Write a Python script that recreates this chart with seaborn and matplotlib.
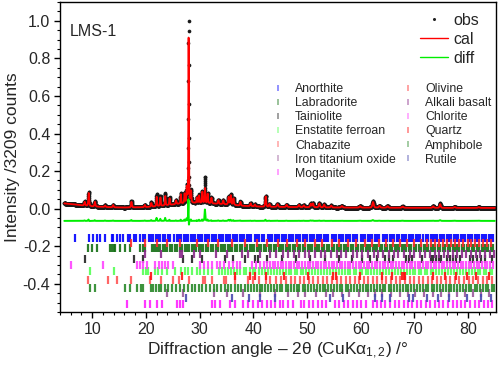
import numpy as np
import pandas as pd
import seaborn as sns
import matplotlib.pyplot as plt
from matplotlib.lines import Line2D
from matplotlib.ticker import MultipleLocator

# Reflexe des Profils: Lage /°, Höhe cal, Höhe obs, Halbwertsbreite
pk_pos = [8.6, 9.35, 10.5, 12.4, 13.9, 17.3, 19.8, 21.0, 22.0, 22.7, 23.6, 24.4, 25.6,
          26.5, 27.2, 27.6, 27.95, 28.4, 29.5, 29.9, 30.5, 31.0, 31.5, 32.2, 33.5, 34.4,
          35.4, 35.8, 36.3, 37.6, 39.5, 40.3, 42.3, 43.0, 44.5, 46.2, 48.5, 49.4, 50.7,
          51.1, 52.3, 53.2, 54.5, 56.5, 59.9, 62.3, 63.5, 65.0, 67.8, 73.5, 74.8, 77.5, 82.0]
pk_cal = [0.02, 0.07, 0.025, 0.008, 0.012, 0.03, 0.012, 0.02, 0.05, 0.045, 0.05, 0.035, 0.02,
          0.05, 0.05, 0.08, 0.9, 0.06, 0.03, 0.04, 0.06, 0.08, 0.05, 0.03, 0.02, 0.02,
          0.04, 0.05, 0.035, 0.02, 0.015, 0.01, 0.055, 0.015, 0.015, 0.012, 0.012, 0.01, 0.018,
          0.02, 0.02, 0.015, 0.01, 0.008, 0.008, 0.03, 0.01, 0.008, 0.006, 0.008, 0.02, 0.005, 0.004]
pk_obs = [0.022, 0.075, 0.028, 0.01, 0.014, 0.034, 0.014, 0.024, 0.065, 0.055, 0.065, 0.04, 0.022,
          0.055, 0.055, 0.09, 0.97, 0.065, 0.032, 0.045, 0.065, 0.14, 0.055, 0.032, 0.022, 0.022,
          0.045, 0.055, 0.038, 0.022, 0.016, 0.011, 0.06, 0.016, 0.016, 0.013, 0.013, 0.011, 0.02,
          0.022, 0.022, 0.016, 0.011, 0.009, 0.009, 0.034, 0.011, 0.009, 0.007, 0.009, 0.024, 0.006, 0.005]
pk_fwhm = [0.2, 0.18, 0.2, 0.2, 0.2, 0.18, 0.2, 0.18, 0.15, 0.15, 0.15, 0.15, 0.18,
           0.15, 0.15, 0.15, 0.12, 0.15, 0.15, 0.15, 0.15, 0.15, 0.15, 0.18, 0.2, 0.2,
           0.2, 0.2, 0.2, 0.2, 0.2, 0.2, 0.2, 0.2, 0.25, 0.25, 0.25, 0.25, 0.25,
           0.25, 0.25, 0.25, 0.25, 0.3, 0.3, 0.3, 0.3, 0.3, 0.3, 0.3, 0.25, 0.3, 0.3]
bg_x = [4, 6, 8, 10, 13, 16, 20, 23, 26, 29, 32, 35, 38, 42, 48, 55, 65, 75, 85]
bg_y = [0.03, 0.025, 0.018, 0.012, 0.008, 0.006, 0.008, 0.015, 0.025, 0.03, 0.028, 0.022,
        0.015, 0.01, 0.008, 0.006, 0.005, 0.004, 0.004]
obs_shift = -0.006
diff_offset = -0.065

# Reflexlagen der Phasen
phases = ['Anorthite', 'Labradorite', 'Tainiolite', 'Enstatite ferroan', 'Chabazite',
          'Iron titanium oxide', 'Moganite', 'Olivine', 'Alkali basalt', 'Chlorite',
          'Quartz', 'Amphibole', 'Rutile']
phase_colors = ['#0000ff', '#157015', '#222222', '#55ff55', '#ff5555', '#9a5a9a', '#ff22ff',
                '#ff2a2a', '#8a2a8a', '#ff44ff', '#ff1010', '#2a882a', '#4a4ab0']
phase_y = [-0.155, -0.21, -0.27, -0.33, -0.38, -0.45, -0.505, -0.183, -0.24, -0.30,
           -0.36, -0.42, -0.475]

anorthite = [6.8, 9.4, 10.1, 10.9, 11.5, 12.3, 13.6, 13.9, 14.6, 15.2, 15.8, 16.6, 17.1, 17.8,
             18.2, 18.9, 19.4, 19.9, 20.5, 20.9, 21.4, 21.8, 22.3, 22.7, 23.2, 23.6, 24.1, 24.5,
             25.3, 25.7, 26.1, 26.6, 27.0, 27.5, 27.9, 28.4, 28.8, 29.2, 29.7, 30.1, 30.5, 31.0,
             31.4, 31.8, 32.3, 32.7, 33.1, 33.6, 34.0, 34.4, 34.9, 35.3, 35.7, 36.2, 36.6, 37.0,
             37.5, 37.9, 38.3, 38.8, 39.2, 39.6, 40.3, 40.7, 41.1, 41.6, 42.0, 42.7, 43.1, 43.5,
             44.0, 44.4, 44.8, 45.3, 45.7, 46.1, 46.6, 47.0, 47.4, 47.9, 48.3, 48.7, 49.2, 49.6,
             50.0, 50.5, 50.9, 51.3, 51.8, 52.2, 52.6, 53.1, 53.5, 53.9, 54.6, 55.0, 55.4, 55.9,
             56.3, 56.7, 57.2, 57.6, 58.0, 58.5, 58.9, 59.3, 60.0, 60.4, 60.8, 61.3, 61.7, 62.1,
             62.6, 63.0, 63.4, 64.1, 64.5, 64.9, 65.4, 65.8, 66.2, 66.7, 67.1, 67.7, 68.1, 68.5,
             69.0, 69.4, 69.8, 70.3, 70.7, 71.1, 71.6, 72.2, 72.6, 73.0, 73.5, 73.9, 74.3, 74.8,
             75.2, 75.6, 76.1, 76.5, 76.9, 77.4, 77.8, 78.2, 78.7, 79.1, 79.5, 80.0, 80.4, 80.8,
             81.3, 81.7, 82.1, 82.6, 83.0, 83.4, 83.9, 84.3, 84.7]
labradorite = [9.3, 10.05, 10.9, 13.4, 13.7, 14.0, 14.3, 15.2, 16.1, 17.1, 18.9, 19.4, 19.9,
               21.1, 21.5, 21.9, 22.3, 22.7, 23.1, 23.6, 24.0, 24.5, 24.9, 25.4, 25.8, 26.3,
               26.7, 27.2, 27.6, 28.0, 28.5, 28.9, 29.4, 29.8, 30.3, 30.7, 31.2, 31.6, 32.1,
               32.5, 33.0, 33.4, 33.9, 34.3, 34.8, 35.2, 35.7, 36.1, 36.6, 37.0, 37.5, 37.9,
               38.4, 38.8, 39.3, 39.7, 40.2, 40.6, 41.1, 41.5, 42.0, 42.4, 42.9, 43.3, 43.8,
               44.2, 44.7, 45.1, 45.6, 46.0, 46.5, 46.9, 47.4, 47.8, 48.3, 48.7, 49.2, 49.6,
               50.1, 50.5, 51.0, 51.4, 51.9, 52.3, 52.8, 53.2, 53.7, 54.1, 54.6, 55.0, 55.5,
               55.9, 56.4, 56.8, 57.3, 57.7, 58.2, 58.6, 59.1, 59.5, 60.0, 60.4, 60.9, 61.3,
               61.8, 62.2, 62.7, 63.1, 63.6, 64.0, 64.5, 64.9, 65.4, 65.8, 66.3, 66.7, 67.2,
               67.6, 68.1, 68.5, 69.0, 69.4, 69.9, 70.3, 70.8, 71.2, 71.7, 72.1, 72.6, 73.0,
               73.5, 73.9, 74.4, 74.8, 75.3, 75.7, 76.2, 76.6, 77.1, 77.5, 78.0, 78.4, 78.9,
               79.3, 79.8, 80.2, 80.7, 81.1, 81.6, 82.0, 82.5, 82.9, 83.4, 83.8, 84.3, 84.7]
tainiolite = [8.7, 17.7, 19.5, 26.9, 28.6, 30.4, 34.8, 36.3, 38.5, 40.4, 40.9, 42.5, 45.3, 48.0,
              50.6, 53.3, 55.9, 58.4, 60.2, 61.8, 63.0, 64.6, 65.2, 66.0, 68.5, 69.0, 69.6,
              71.5, 73.0, 73.5, 74.0, 74.6, 75.0, 76.0, 76.6, 77.2, 77.8, 78.5, 80.4, 81.0,
              81.6, 82.4, 83.2, 84.5]
enstatite = [9.6, 14.0, 19.5, 20.0, 20.4, 21.7, 22.3, 23.0, 24.0, 25.5, 26.5, 27.3, 27.8, 28.6,
             29.5, 30.0, 30.9, 31.5, 32.3, 33.6, 34.2, 34.8, 35.3, 35.9, 36.4, 37.0, 37.6, 38.2,
             38.7, 39.3, 39.9, 40.4, 41.0, 41.6, 42.1, 42.7, 43.3, 43.8, 44.4, 44.9, 45.5, 46.0,
             46.6, 47.1, 47.7, 48.2, 48.8, 49.3, 49.9, 50.4, 51.0, 51.5, 52.1, 52.6, 53.2, 53.7,
             54.3, 54.8, 55.4, 55.9, 56.5, 57.0, 57.6, 58.1, 58.7, 59.2, 59.8, 60.3, 60.9, 61.4,
             62.0, 62.5, 63.1, 63.6, 64.2, 64.7, 65.3, 65.8, 66.4, 66.9, 67.5, 68.0, 68.6, 69.1,
             69.7, 70.2, 70.8, 71.3, 71.9, 72.4, 73.0, 73.5, 74.1, 74.6, 75.2, 75.7, 76.3, 76.8,
             77.4, 77.9, 78.5, 79.0, 79.6, 80.1, 80.7, 81.2, 81.8, 82.3, 82.9, 83.4, 84.0, 84.5]
chabazite = [9.3, 13.0, 14.7, 17.2, 20.7, 22.9, 25.0, 26.1, 28.0, 30.6, 31.0, 32.3, 34.5, 35.0,
             36.5, 39.0, 40.0, 41.0, 42.3, 43.2, 44.3, 45.1, 46.0, 47.0, 47.8, 48.7, 49.5, 50.4,
             51.2, 52.1, 52.9, 53.8, 54.6, 55.5, 56.3, 57.2, 58.0, 58.9, 59.7, 60.6, 61.4, 62.3,
             63.1, 64.0, 64.8, 65.7, 66.5, 67.4, 68.2, 69.1, 69.9, 70.8, 71.6, 72.5, 73.3, 74.2,
             75.0, 75.9, 76.7, 77.6, 78.4, 79.3, 80.1, 81.0, 81.8, 82.7, 83.5, 84.4]
iron_ti_oxide = [23.9, 26.9, 32.6, 35.1, 38.1, 41.3, 44.0, 46.5, 48.4, 49.7, 51.6, 53.5, 54.8,
                 56.5, 57.9, 59.6, 61.3, 62.6, 64.0, 65.7, 67.3, 68.8, 70.2, 71.8, 73.4, 75.0,
                 76.4, 78.0, 79.5, 80.9, 82.4, 83.9]
moganite = [16.5, 19.9, 20.8, 22.0, 23.0, 25.8, 26.4, 26.9, 32.3, 32.9, 33.8, 35.7, 36.6, 38.0,
            39.0, 40.0, 40.8, 41.6, 42.5, 43.3, 44.1, 44.9, 45.6, 46.4, 47.3, 48.8, 49.5, 50.3,
            51.2, 52.0, 52.8, 53.6, 55.2, 56.0, 56.8, 57.6, 58.5, 59.3, 60.0, 61.0, 62.2, 63.0,
            63.8, 64.6, 65.5, 66.3, 67.1, 68.0, 68.8, 69.6, 70.4, 71.3, 72.1, 72.9, 73.8, 74.6,
            75.4, 76.2, 77.1, 77.9, 78.7, 79.5, 80.4, 81.2, 82.0, 82.9, 83.7, 84.5]
olivine = [17.2, 19.9, 22.0, 23.9, 26.4, 29.5, 31.6, 33.5, 36.0, 38.5, 40.7, 42.5, 44.6, 46.3,
           48.2, 49.7, 51.5, 52.8, 54.6, 56.0, 57.7, 59.2, 60.8, 62.1, 63.5, 64.8, 66.0, 67.4,
           68.6, 69.9, 71.2, 72.3, 73.0, 73.8, 74.5, 75.3, 76.1, 76.8, 77.6, 78.4, 79.1, 79.9,
           80.6, 81.3, 82.1, 82.8, 83.6, 84.3]
alkali_basalt = [19.9, 22.9, 26.4, 26.7, 28.9, 30.1, 33.0, 35.1, 37.9, 39.1, 41.3, 43.1, 44.2,
                 45.5, 46.4, 47.6, 48.5, 49.6, 50.4, 51.5, 52.6, 53.4, 54.5, 55.6, 56.4, 57.3,
                 58.5, 59.4, 60.2, 61.3, 62.4, 63.2, 64.1, 65.3, 66.2, 67.0, 68.1, 69.2, 70.0,
                 71.1, 72.0, 72.9, 73.8, 74.6, 75.5, 76.3, 77.2, 78.0, 78.9, 79.7, 80.6, 81.4,
                 82.3, 83.1, 84.0, 84.8]
chlorite = [6.0, 12.0, 18.3, 18.9, 19.5, 20.2, 21.7, 22.4, 23.0, 23.6, 24.2, 25.0, 30.1, 30.8,
            31.5, 32.3, 33.3, 33.8, 34.6, 35.5, 36.3, 37.0, 37.6, 39.8, 40.5, 41.2, 42.0, 42.6,
            43.1, 43.6, 44.1, 44.6, 45.1, 45.6, 46.1, 46.6, 47.1, 47.6, 48.1, 48.6, 49.1, 49.6,
            50.1, 50.6, 51.1, 51.6, 52.1, 52.6, 53.1, 53.6, 54.1, 54.6, 55.1, 55.6, 56.1, 56.6,
            57.1, 57.6, 58.1, 58.6, 59.1, 59.6, 60.1, 60.6, 61.1, 61.6, 62.1, 62.6, 63.1, 63.6,
            64.1, 64.6, 65.1, 65.6, 66.1, 66.6, 67.1, 67.6, 68.1, 68.6, 69.1, 69.6, 70.1, 70.6,
            71.1, 71.6, 72.1, 72.6, 73.1, 73.6, 74.1, 74.6, 75.1, 75.6, 76.1, 76.6, 77.1, 77.6,
            78.1, 78.6, 79.1, 79.6, 80.1, 80.6, 81.1, 81.6, 82.1, 82.6, 83.1, 83.6, 84.1, 84.6]
quartz = [20.86, 26.64, 36.54, 39.46, 40.29, 42.45, 45.79, 50.14, 54.87, 55.32, 59.96, 64.03,
          65.79, 67.74, 68.14, 68.32, 73.47, 75.66, 77.67, 79.88, 81.49, 83.84]
amphibole = [9.6, 10.6, 16.1, 17.1, 18.4, 19.0, 19.5, 21.0, 21.4, 21.9, 22.4, 22.9, 23.5, 24.2,
             24.9, 25.6, 26.3, 27.0, 27.8, 28.5, 29.1, 29.8, 30.5, 31.2, 31.9, 32.6, 33.3, 34.0,
             34.7, 35.3, 35.9, 36.5, 37.1, 37.8, 38.4, 39.0, 39.6, 40.1, 40.6, 41.2, 41.7, 42.2,
             42.8, 43.3, 43.8, 44.4, 44.9, 45.4, 46.0, 46.5, 47.0, 47.6, 48.1, 48.6, 49.2, 49.7,
             50.2, 50.8, 51.3, 51.8, 52.4, 52.9, 53.4, 54.0, 54.5, 55.0, 55.6, 56.1, 56.6, 57.2,
             57.7, 58.2, 58.8, 59.3, 59.8, 60.4, 60.9, 61.4, 62.0, 62.5, 63.0, 63.6, 64.1, 64.6,
             65.2, 65.7, 66.2, 66.8, 67.3, 67.8, 68.4, 68.9, 69.4, 70.0, 70.5, 71.0, 71.6, 72.1,
             72.6, 73.2, 73.7, 74.2, 74.8, 75.3, 75.8, 76.4, 76.9, 77.4, 78.0, 78.5, 79.0, 79.6,
             80.1, 80.6, 81.2, 81.7, 82.2, 82.8, 83.3, 83.8, 84.4, 84.9]
rutile = [27.45, 36.09, 39.19, 41.23, 44.05, 54.32, 56.64, 62.75, 64.04, 65.49, 69.01, 69.79,
          72.41, 74.41, 76.51, 79.82, 82.33, 84.26]

phase_ticks = [anorthite, labradorite, tainiolite, enstatite, chabazite, iron_ti_oxide, moganite,
               olivine, alkali_basalt, chlorite, quartz, amphibole, rutile]

# Profil aus den Reflexen aufbauen (Pseudo-Voigt)
two_theta = np.arange(4.8, 85.0, 0.02)

def profile(heights, shift=0.0):
    y = np.interp(two_theta, bg_x, bg_y)
    for p, h, w in zip(pk_pos, heights, pk_fwhm):
        d = (two_theta - p - shift) / (w / 2)
        y = y + h * (0.5 / (1 + d ** 2) + 0.5 * np.exp(-np.log(2) * d ** 2))
    return y

cal = profile(pk_cal)
obs = profile(pk_obs, obs_shift)
df = pd.DataFrame({'tt': two_theta, 'obs': obs, 'cal': cal, 'diff': obs - cal + diff_offset})

sns.set_theme(style='ticks')
plt.rcParams['font.family'] = ['Liberation Sans', 'DejaVu Sans']
plt.rcParams['mathtext.fontset'] = 'custom'
plt.rcParams['mathtext.rm'] = 'Liberation Sans'
plt.rcParams['mathtext.it'] = 'Liberation Sans'
plt.rcParams['axes.unicode_minus'] = False

fig = plt.figure(figsize=(4.98, 3.71), dpi=100)
ax = fig.add_axes([0.1205, 0.159, 0.8755, 0.8356])

sns.scatterplot(data=df, x='tt', y='obs', ax=ax, color='#1a1a1a', s=7,
                linewidth=0, marker='o', zorder=2)
sns.lineplot(data=df, x='tt', y='cal', ax=ax, color='#ff0000', lw=1.3, zorder=3)
sns.lineplot(data=df, x='tt', y='diff', ax=ax, color='#00ee00', lw=1.4, zorder=3)

for ticks, col, yy in zip(phase_ticks, phase_colors, phase_y):
    ax.plot(ticks, [yy] * len(ticks), ls='none', marker='|', ms=6, mew=1.6, color=col,
            alpha=0.9)

ax.set_xlim(4, 85.2)
ax.set_ylim(-0.55, 1.1)
ax.xaxis.set_major_locator(MultipleLocator(10))
ax.xaxis.set_minor_locator(MultipleLocator(2))
ax.yaxis.set_major_locator(MultipleLocator(0.2))
ax.yaxis.set_minor_locator(MultipleLocator(0.05))
ax.yaxis.set_major_formatter(plt.FormatStrFormatter('%.1f'))
ax.tick_params(which='major', direction='out', length=4, width=1, labelsize=11.5,
               color='black', pad=3)
ax.tick_params(which='minor', direction='out', length=2.5, width=0.8, color='black')
ax.tick_params(top=False, right=False)
for s in ax.spines.values():
    s.set_color('black')
    s.set_linewidth(1)

ax.set_xlabel(r'Diffraction angle – 2θ (CuKα$_{1,2}$) /°', fontsize=12.5, labelpad=3)
ax.set_ylabel('Intensity /3209 counts', fontsize=12.5, labelpad=2)
ax.text(0.023, 0.905, 'LMS-1', transform=ax.transAxes, fontsize=11.5, va='center')

# Legende: Messung/Rechnung
h1 = [Line2D([], [], ls='none', marker='o', ms=1.2, color='#222222'),
      Line2D([], [], color='#ff0000', lw=1),
      Line2D([], [], color='#00ee00', lw=1)]
leg1 = ax.legend(h1, ['obs', 'cal', 'diff'], loc='upper right', bbox_to_anchor=(0.962, 0.965),
                 frameon=False, fontsize=11.5, handlelength=1.75, handletextpad=0.35,
                 labelspacing=0.25, borderpad=0, borderaxespad=0)
ax.add_artist(leg1)

# Legende: Phasen
h2 = [Line2D([], [], ls='none', marker='|', ms=5, mew=1.2, color=c, alpha=0.5)
      for c in phase_colors]
ax.legend(h2, phases, loc='upper left', bbox_to_anchor=(0.486, 0.738), ncol=2, frameon=False,
          fontsize=8.8, handlelength=1.0, handletextpad=0.9, labelspacing=0.17,
          columnspacing=0.5, borderpad=0, borderaxespad=0)

fig.savefig('out.png', dpi=100)
